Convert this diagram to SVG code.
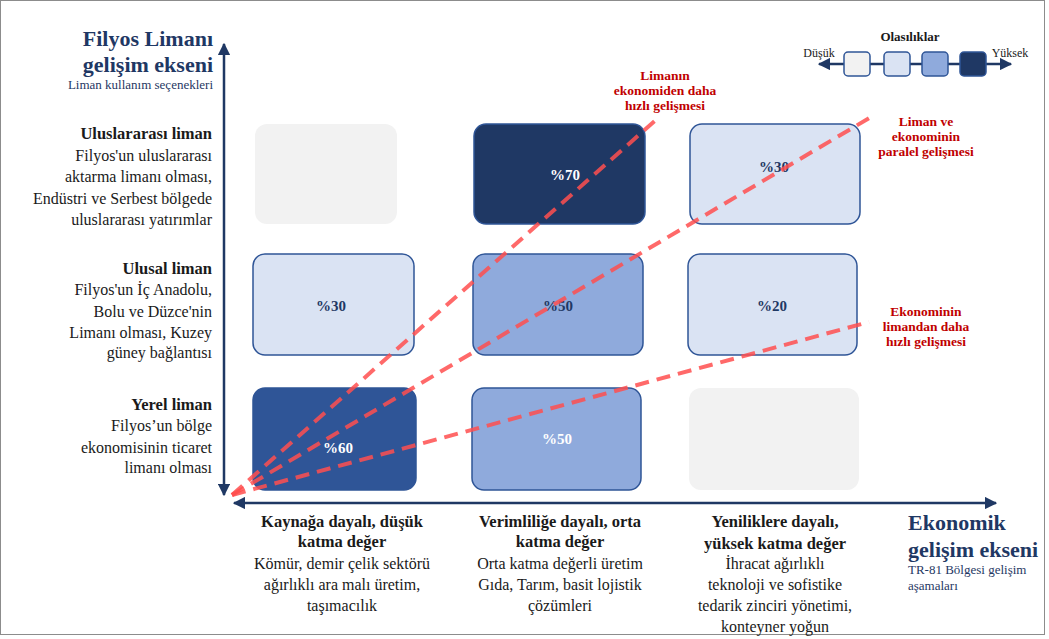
<svg xmlns="http://www.w3.org/2000/svg" width="1049" height="639" viewBox="0 0 1049 639">
<defs>
<marker id="ah" viewBox="0 0 10 10" refX="9" refY="5" markerWidth="5" markerHeight="5" orient="auto-start-reverse">
<path d="M0,0 L10,5 L0,10 Z" fill="#1F3864"/>
</marker>
<style>
text{font-family:"Liberation Serif","Times New Roman",serif}
.title{font-size:22px;font-weight:bold;fill:#1F3864}
.sub{font-size:13px;fill:#1F3864}
.lbl{font-size:16px;fill:#1a1a1a}
.lb{font-size:16.5px;font-weight:bold;fill:#1a1a1a}
.red{font-size:13.5px;font-weight:bold;fill:#C00000;text-anchor:middle}
.pct{font-size:15px;font-weight:bold;text-anchor:middle}
.axis{stroke:#1F3864;stroke-width:2.5;fill:none}
.cell{stroke:#2F5597;stroke-width:1.5}
.trend{stroke:#FF4F4F;stroke-opacity:0.85;stroke-width:4;stroke-dasharray:14 8;fill:none}
</style>
</defs>
<rect x="0" y="0" width="1049" height="639" fill="#ffffff"/>
<rect x="0.5" y="0.5" width="1044" height="634" fill="none" stroke="#8c8c8c" stroke-width="1"/>

<g id="y-axis-title">
<text class="title" x="213" y="46" text-anchor="end">Filyos Limanı</text>
<text class="title" x="213" y="72" text-anchor="end">gelişim ekseni</text>
<text class="sub" x="213" y="89" text-anchor="end">Liman kullanım seçenekleri</text>
</g>

<g id="legend">
<text x="910" y="41" text-anchor="middle" style="font-size:13px;font-weight:bold;fill:#1a1a1a">Olasılıklar</text>
<text x="819" y="57" text-anchor="middle" style="font-size:12px;fill:#1a1a1a">Düşük</text>
<text x="1010" y="57" text-anchor="middle" style="font-size:12px;fill:#1a1a1a">Yüksek</text>
<line x1="819" y1="64" x2="1011" y2="64" class="axis" stroke-width="2" marker-start="url(#ah)" marker-end="url(#ah)"/>
<rect x="844" y="52" width="26" height="24" rx="4" fill="#F2F2F2" class="cell"/>
<rect x="884" y="52" width="26" height="24" rx="4" fill="#DAE3F3" class="cell"/>
<rect x="922" y="52" width="26" height="24" rx="4" fill="#8FAADC" class="cell"/>
<rect x="960" y="52" width="26" height="24" rx="4" fill="#1F3864" class="cell"/>
</g>

<g id="row-labels">
<g id="row-uluslararasi">
<text class="lb" x="212" y="139" text-anchor="end">Uluslararası liman</text>
<text class="lbl" x="212" y="161" text-anchor="end">Filyos'un uluslararası</text>
<text class="lbl" x="212" y="182" text-anchor="end">aktarma limanı olması,</text>
<text class="lbl" x="212" y="204" text-anchor="end">Endüstri ve Serbest bölgede</text>
<text class="lbl" x="212" y="225" text-anchor="end">uluslararası yatırımlar</text>
</g>
<g id="row-ulusal">
<text class="lb" x="212" y="274" text-anchor="end">Ulusal liman</text>
<text class="lbl" x="212" y="295" text-anchor="end">Filyos'un İç Anadolu,</text>
<text class="lbl" x="212" y="317" text-anchor="end">Bolu ve Düzce'nin</text>
<text class="lbl" x="212" y="338" text-anchor="end">Limanı olması, Kuzey</text>
<text class="lbl" x="212" y="358" text-anchor="end">güney bağlantısı</text>
</g>
<g id="row-yerel">
<text class="lb" x="212" y="410" text-anchor="end">Yerel liman</text>
<text class="lbl" x="212" y="431" text-anchor="end">Filyos’un bölge</text>
<text class="lbl" x="212" y="453" text-anchor="end">ekonomisinin ticaret</text>
<text class="lbl" x="212" y="473" text-anchor="end">limanı olması</text>
</g>
</g>

<g id="cells">
<g id="c-1-1"><rect x="255" y="124" width="142" height="100" rx="12" fill="#F2F2F2"/></g>
<g id="c-1-2"><rect x="474" y="124" width="171" height="100" rx="12" fill="#1F3864" class="cell"/><text class="pct" x="565" y="180" fill="#ffffff">%70</text></g>
<g id="c-1-3"><rect x="690" y="124" width="170" height="100" rx="12" fill="#DAE3F3" class="cell"/><text class="pct" x="774" y="172" fill="#1F3864">%30</text></g>
<g id="c-2-1"><rect x="253" y="254" width="161" height="101" rx="12" fill="#DAE3F3" class="cell"/><text class="pct" x="331" y="311" fill="#1F3864">%30</text></g>
<g id="c-2-2"><rect x="473" y="254" width="170" height="101" rx="12" fill="#8FAADC" class="cell"/><text class="pct" x="558" y="311" fill="#1F3864">%50</text></g>
<g id="c-2-3"><rect x="688" y="254" width="169" height="101" rx="12" fill="#DAE3F3" class="cell"/><text class="pct" x="772" y="311" fill="#1F3864">%20</text></g>
<g id="c-3-1"><rect x="253" y="388" width="163" height="102" rx="12" fill="#2F5597" class="cell"/><text class="pct" x="338" y="453" fill="#ffffff">%60</text></g>
<g id="c-3-2"><rect x="472" y="388" width="169" height="102" rx="12" fill="#8FAADC" class="cell"/><text class="pct" x="557" y="444" fill="#ffffff">%50</text></g>
<g id="c-3-3"><rect x="689" y="388" width="170" height="102" rx="12" fill="#F2F2F2"/></g>
</g>

<g id="connectors">
<line class="axis" x1="224" y1="44" x2="224" y2="495" marker-start="url(#ah)" marker-end="url(#ah)"/>
<line class="axis" x1="234" y1="503" x2="996" y2="503" marker-start="url(#ah)" marker-end="url(#ah)"/>
<line class="trend" x1="232" y1="495" x2="657" y2="119"/>
<line class="trend" x1="232" y1="495" x2="871" y2="117"/>
<line class="trend" x1="232" y1="495" x2="869" y2="322"/>
</g>

<g id="trend-labels">
<g id="t-liman-hizli">
<text class="red" x="665" y="80">Limanın</text>
<text class="red" x="665" y="95">ekonomiden daha</text>
<text class="red" x="665" y="110">hızlı gelişmesi</text>
</g>
<g id="t-paralel">
<text class="red" x="926" y="126">Liman ve</text>
<text class="red" x="926" y="141">ekonominin</text>
<text class="red" x="926" y="156">paralel gelişmesi</text>
</g>
<g id="t-ekonomi-hizli">
<text class="red" x="926" y="316">Ekonominin</text>
<text class="red" x="926" y="331">limandan daha</text>
<text class="red" x="926" y="346">hızlı gelişmesi</text>
</g>
</g>

<g id="col-labels">
<g id="col-1">
<text class="lb" x="342" y="527" text-anchor="middle">Kaynağa dayalı, düşük</text>
<text class="lb" x="342" y="547" text-anchor="middle">katma değer</text>
<text class="lbl" x="342" y="569" text-anchor="middle">Kömür, demir çelik sektörü</text>
<text class="lbl" x="342" y="590" text-anchor="middle">ağırlıklı ara malı üretim,</text>
<text class="lbl" x="342" y="611" text-anchor="middle">taşımacılık</text>
</g>
<g id="col-2">
<text class="lb" x="560" y="527" text-anchor="middle">Verimliliğe dayalı, orta</text>
<text class="lb" x="560" y="547" text-anchor="middle">katma değer</text>
<text class="lbl" x="560" y="569" text-anchor="middle">Orta katma değerli üretim</text>
<text class="lbl" x="560" y="590" text-anchor="middle">Gıda, Tarım, basit lojistik</text>
<text class="lbl" x="560" y="611" text-anchor="middle">çözümleri</text>
</g>
<g id="col-3">
<text class="lb" x="775" y="527" text-anchor="middle">Yeniliklere dayalı,</text>
<text class="lb" x="775" y="549" text-anchor="middle">yüksek katma değer</text>
<text class="lbl" x="775" y="569" text-anchor="middle">İhracat ağırlıklı</text>
<text class="lbl" x="775" y="590" text-anchor="middle">teknoloji ve sofistike</text>
<text class="lbl" x="775" y="611" text-anchor="middle">tedarik zinciri yönetimi,</text>
<text class="lbl" x="775" y="632" text-anchor="middle">konteyner yoğun</text>
</g>
</g>

<g id="x-axis-title">
<text class="title" x="908" y="530">Ekonomik</text>
<text class="title" x="908" y="557">gelişim ekseni</text>
<text class="sub" x="908" y="574">TR-81 Bölgesi gelişim</text>
<text class="sub" x="908" y="590">aşamaları</text>
</g>
</svg>
